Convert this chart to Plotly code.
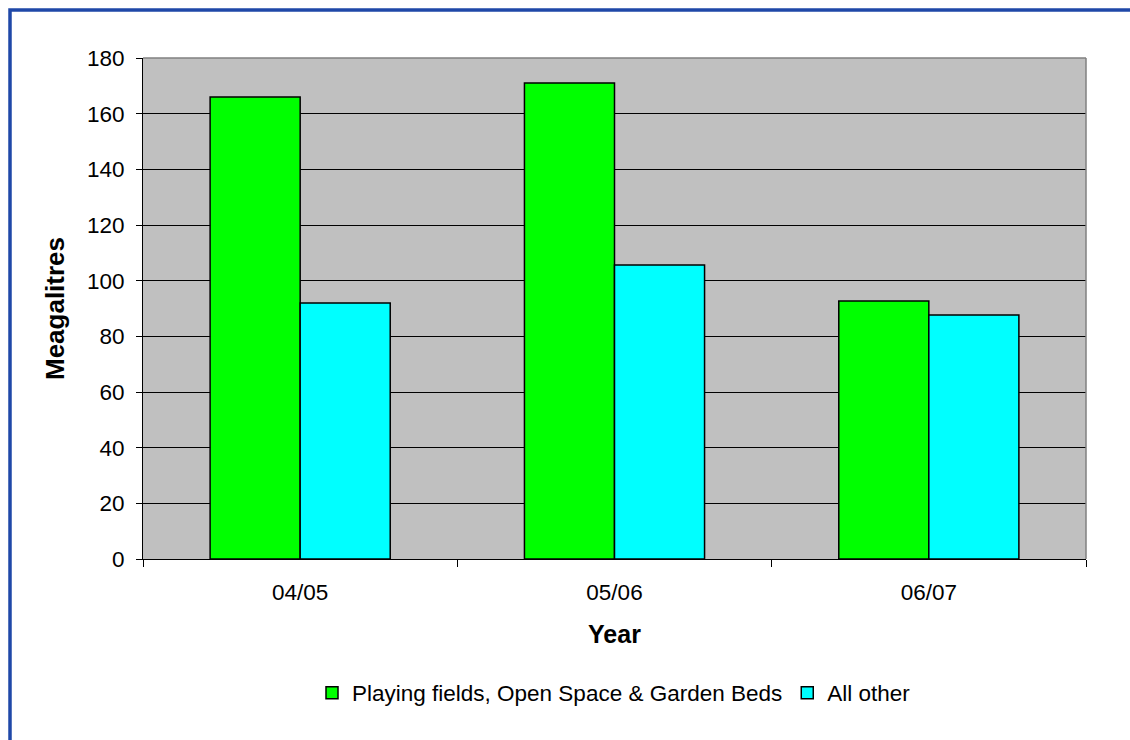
import plotly.graph_objects as go

years = ["04/05", "05/06", "06/07"]
playing_fields = [166, 171, 92.7]
all_other = [92, 105.6, 87.7]
series_names = ["Playing fields, Open Space & Garden Beds", "All other"]
y_ticks = [0, 20, 40, 60, 80, 100, 120, 140, 160, 180]

W, H = 1130, 740
ML, MR, MT, MB = 143, 44, 58, 181
PW, PH = W - ML - MR, H - MT - MB

def px_x(p):
    return (p - ML) / PW

def px_y(p):
    return (H - MB - p) / PH

font = "Liberation Sans, Arial, sans-serif"

fig = go.Figure()
fig.add_trace(go.Bar(x=years, y=playing_fields, name=series_names[0],
                     marker=dict(color="#00FF00", line=dict(color="black", width=1.5))))
fig.add_trace(go.Bar(x=years, y=all_other, name=series_names[1],
                     marker=dict(color="#00FFFF", line=dict(color="black", width=1.5))))

fig.update_layout(
    width=W, height=H,
    margin=dict(l=ML, r=MR, t=MT, b=MB),
    paper_bgcolor="white",
    plot_bgcolor="#C0C0C0",
    barmode="group", bargap=0.427, bargroupgap=0,
    font=dict(family=font, size=22, color="black"),
    showlegend=True,
    legend=dict(orientation="h", x=px_x(614), xanchor="center", y=px_y(693), yanchor="middle",
                font=dict(size=22.5), itemwidth=30, tracegroupgap=0,
                bgcolor="rgba(0,0,0,0)"),
    xaxis=dict(
        type="category", tickson="boundaries", ticks="outside", ticklen=7,
        tickcolor="black", tickwidth=1, showline=True, linecolor="black", linewidth=1,
        showgrid=False, tickfont=dict(size=22.5), ticklabelstandoff=13,
        title=dict(text="<b>Year</b>", font=dict(size=25), standoff=21),
    ),
    yaxis=dict(
        range=[0, 180], tickvals=y_ticks, ticks="outside", ticklen=6, tickcolor="black",
        showline=True, linecolor="black", linewidth=1,
        showgrid=True, gridcolor="black", gridwidth=1, zeroline=False,
        tickfont=dict(size=22.5), ticklabelstandoff=7,
        title=dict(text="<b>Meagalitres</b>", font=dict(size=26), standoff=14),
    ),
    shapes=[
        dict(type="line", xref="paper", yref="paper", x0=0, x1=1, y0=1, y1=1,
             line=dict(color="#808080", width=1.5)),
        dict(type="line", xref="paper", yref="paper", x0=1, x1=1, y0=0, y1=1,
             line=dict(color="#808080", width=1.5)),
        dict(type="rect", xref="paper", yref="paper",
             x0=px_x(10), x1=px_x(W + 20), y0=px_y(10), y1=px_y(H + 20),
             line=dict(color="#1F48A8", width=3.5), fillcolor="rgba(0,0,0,0)"),
    ],
)

fig.write_html("out.html")
